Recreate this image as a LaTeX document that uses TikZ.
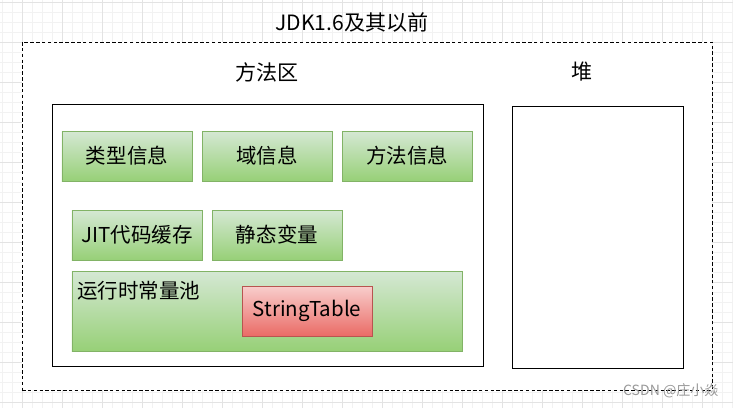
\documentclass[tikz,border=0pt]{standalone}
\usepackage{fontspec}
\newfontfamily\cjk{Noto Sans CJK SC}
\usetikzlibrary{positioning}

\definecolor{greenTop}{HTML}{D5E8D4}
\definecolor{greenBot}{HTML}{97D077}
\definecolor{greenLine}{HTML}{82B366}
\definecolor{redTop}{HTML}{F8CECC}
\definecolor{redBot}{HTML}{EA6B66}
\definecolor{redLine}{HTML}{B85450}

\begin{document}
\begin{tikzpicture}[
    x=0.03cm, y=-0.03cm,
    font=\cjk\fontsize{17.5}{20}\selectfont, line width=0.8pt,
    area/.style={draw=black,fill=white,inner sep=0pt,minimum height=7.86cm},
    item/.style={draw=greenLine,top color=greenTop,bottom color=greenBot,
        inner sep=0pt,minimum width=3.9cm,minimum height=1.5cm},
    strtab/.style={draw=redLine,top color=redTop,bottom color=redBot,
        inner sep=0pt,minimum width=3.9cm,minimum height=1.5cm},
    label/.style={font=\cjk\fontsize{18}{20}\selectfont,inner sep=0pt}
]
\path[use as bounding box] (0,0) rectangle (733,408);

% faint drawing grid behind everything
\foreach \g in {2,12,...,732} \draw[black!5,line width=0.4pt] (\g,0) -- (\g,408);
\foreach \g in {2,12,...,402} \draw[black!5,line width=0.4pt] (0,\g) -- (733,\g);
\foreach \g in {22,62,...,702} \draw[black!11,line width=0.5pt] (\g,0) -- (\g,408);
\foreach \g in {2,42,...,402} \draw[black!11,line width=0.5pt] (0,\g) -- (733,\g);

\node[draw=black,dash pattern=on 3pt off 2pt,fill=white,inner sep=0pt,
    minimum width=20.7cm,minimum height=10.44cm] (jdk) at (367,216) {};
\node[label] (title) at (352,22) {JDK1.6及其以前};

\node[label] (mtitle) at (267,72) {方法区};
\node[label] (htitle) at (582,72) {堆};
\node[area,minimum width=12.93cm] (method) at (267.5,235) {};
\node[area,minimum width=5.13cm] (heap) at (597.5,237) {};

\foreach \x/\y/\n/\t in {127/156/type/类型信息, 267/156/field/域信息,
    407/156/meth/方法信息, 137/235/jit/JIT代码缓存, 277/235/static/静态变量} {
    \node[item] (\n) at (\x,\y) {\t};
}
\node[item,minimum width=11.7cm,minimum height=2.4cm] (pool) at (267,311) {};
\node[anchor=west,inner sep=0pt] (poolname) at (77,291) {运行时常量池};
\node[strtab] (st) at (307,311) {StringTable};

\node[text=black!40,font=\cjk\fontsize{12}{14}\selectfont,anchor=east,inner sep=0pt]
    (mark) at (719,391) {CSDN @庄小焱};
\end{tikzpicture}
\end{document}
